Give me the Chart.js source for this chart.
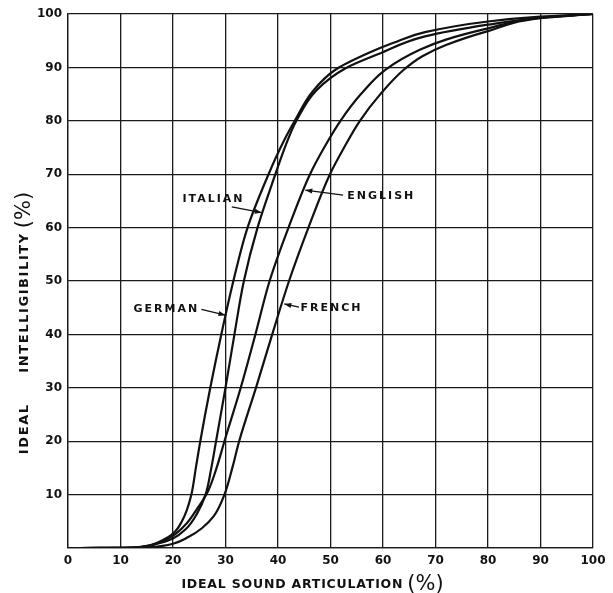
<!DOCTYPE html>
<html><head><meta charset="utf-8">
<script src="https://cdn.jsdelivr.net/npm/chart.js@4/dist/chart.umd.min.js"></script>
<style>html,body{margin:0;padding:0;background:#fff;}canvas{display:block;}</style>
</head><body>
<canvas id="c" width="613" height="593"></canvas>
<script>
// ---- data ----
const xTickValues = [0, 10, 20, 30, 40, 50, 60, 70, 80, 90, 100];
const yTickValues = [10, 20, 30, 40, 50, 60, 70, 80, 90, 100];
const xTitle = 'IDEAL SOUND ARTICULATION';
const yTitle = 'IDEAL     INTELLIGIBILITY';
const pctLabel = '(%)';

const germanX  = [0, 6, 10, 12.5, 14.5, 17, 19, 20.5, 21.7, 22.6, 23.5, 24.35, 25.2, 27.1, 29.2, 31.5, 34.2, 38.2, 41.2, 43.2, 46.6, 51, 57, 62, 68, 80, 90, 100];
const germanY  = [0, 0.005, 0.02, 0.08, 0.3, 1, 2, 3.2, 5, 7, 10, 15, 20, 30, 40, 50, 60, 70, 76.4, 80, 85.5, 89.6, 92.6, 94.6, 96.6, 98.6, 99.5, 100];
const italianX = [0, 6, 10, 12.5, 14.5, 17, 20, 22.5, 24.5, 26.2, 27.3, 28.2, 30.0, 31.7, 33.5, 36.1, 39.5, 41.5, 43.5, 47.3, 52.8, 59.4, 68, 80, 90, 100];
const italianY = [0, 0.005, 0.02, 0.07, 0.25, 0.8, 1.8, 3.6, 6.3, 10, 15, 20, 30, 40, 50, 60, 70, 75.5, 80, 85.7, 89.8, 92.6, 95.8, 98, 99.3, 100];
const englishX = [0, 6, 10, 12.5, 14.5, 17, 20, 22.5, 24.5, 26.6, 28.3, 29.8, 32.9, 35.7, 38.4, 42.0, 46.1, 48.8, 51.9, 55.8, 60.5, 67, 72, 80, 90, 100];
const englishY = [0, 0.005, 0.02, 0.07, 0.25, 0.9, 2.3, 4.5, 7.2, 10.5, 15, 20, 30, 40, 50, 60, 70, 75, 80, 85, 89.6, 93.3, 95.2, 97.3, 99.3, 100];
const frenchX  = [0, 7, 11, 13.5, 15.5, 18, 20, 23, 25.5, 27.8, 29.8, 31.3, 32.6, 35.8, 38.9, 42.1, 45.8, 49.9, 52.6, 55.6, 59.5, 64, 67.5, 72, 80, 90, 100];
const frenchY  = [0, 0.004, 0.015, 0.05, 0.14, 0.4, 0.8, 2.1, 3.7, 6, 10, 15, 20, 30, 40, 50, 60, 70, 75, 80, 85, 89.6, 92.1, 94.2, 96.8, 99.2, 100];

const seriesNames = ['GERMAN', 'ITALIAN', 'ENGLISH', 'FRENCH'];

// label annotations (data units): text anchor + arrow from/to
const notes = [
  {text: 'ITALIAN', tx: 27.7, ty: 65.4, align: 'center', fx: 31.2, fy: 63.9, toX: 36.9, toY: 62.8},
  {text: 'ENGLISH', tx: 53.2, ty: 65.9, align: 'left',   fx: 52.4, fy: 66.1, toX: 45.2, toY: 67.0},
  {text: 'GERMAN',  tx: 25.0, ty: 44.8, align: 'right',  fx: 25.4, fy: 44.7, toX: 30.0, toY: 43.6},
  {text: 'FRENCH',  tx: 44.3, ty: 44.9, align: 'left',   fx: 44.0, fy: 45.1, toX: 41.2, toY: 45.7}
];

const toPts = (xs, ys) => xs.map((x, i) => ({x: x, y: ys[i]}));
const lineStyle = {borderColor: '#111', borderWidth: 2.2, pointRadius: 0, fill: false,
                   cubicInterpolationMode: 'monotone'};

const notesPlugin = {
  id: 'notes',
  afterDatasetsDraw(chart) {
    const ctx = chart.ctx, xs = chart.scales.x, ys = chart.scales.y;
    ctx.save();
    ctx.fillStyle = '#111'; ctx.strokeStyle = '#111';
    ctx.font = 'bold 11px "DejaVu Sans"';
    ctx.letterSpacing = '2px';
    ctx.textBaseline = 'middle';
    notes.forEach(n => {
      ctx.textAlign = n.align;
      ctx.fillText(n.text, xs.getPixelForValue(n.tx), ys.getPixelForValue(n.ty));
      const x0 = xs.getPixelForValue(n.fx), y0 = ys.getPixelForValue(n.fy);
      const x1 = xs.getPixelForValue(n.toX), y1 = ys.getPixelForValue(n.toY);
      ctx.lineWidth = 1.3;
      ctx.beginPath(); ctx.moveTo(x0, y0); ctx.lineTo(x1, y1); ctx.stroke();
      const a = Math.atan2(y1 - y0, x1 - x0), L = 7, W = 2.5;
      ctx.beginPath();
      ctx.moveTo(x1, y1);
      ctx.lineTo(x1 - L * Math.cos(a) + W * Math.sin(a), y1 - L * Math.sin(a) - W * Math.cos(a));
      ctx.lineTo(x1 - L * Math.cos(a) - W * Math.sin(a), y1 - L * Math.sin(a) + W * Math.cos(a));
      ctx.closePath(); ctx.fill();
    });
    ctx.restore();
  },
  afterDraw(chart) {
    const ctx = chart.ctx, area = chart.chartArea;
    const pctFont = '21px "DejaVu Sans"';
    const drawTitle = (main, cx, cy, rot, mainFont, spacing, gap) => {
      ctx.save();
      ctx.translate(cx, cy);
      ctx.rotate(rot);
      ctx.fillStyle = '#111';
      ctx.textBaseline = 'alphabetic';
      ctx.textAlign = 'left';
      ctx.font = mainFont; ctx.letterSpacing = spacing;
      const w1 = ctx.measureText(main).width + gap;
      ctx.font = pctFont; ctx.letterSpacing = '0px';
      const w2 = ctx.measureText(pctLabel).width;
      const start = -(w1 + w2) / 2;
      ctx.font = mainFont; ctx.letterSpacing = spacing;
      ctx.fillText(main, start, 0);
      ctx.font = pctFont; ctx.letterSpacing = '0px';
      ctx.fillText(pctLabel, start + w1, 2);
      ctx.restore();
    };
    drawTitle(xTitle, (area.left + area.right) / 2 - 18, 588, 0, 'bold 12.5px "DejaVu Sans"', '0.8px', 4);
    drawTitle(yTitle, 28, (area.top + area.bottom) / 2 + 42, -Math.PI / 2, 'bold 13px "DejaVu Sans"', '1.6px', 4);
  }
};

new Chart(document.getElementById('c'), {
  type: 'line',
  data: {
    datasets: [
      Object.assign({label: seriesNames[0], data: toPts(germanX, germanY)}, lineStyle),
      Object.assign({label: seriesNames[1], data: toPts(italianX, italianY)}, lineStyle),
      Object.assign({label: seriesNames[2], data: toPts(englishX, englishY)}, lineStyle),
      Object.assign({label: seriesNames[3], data: toPts(frenchX, frenchY)}, lineStyle)
    ]
  },
  options: {
    indexAxis: 'y',
    responsive: false,
    animation: false,
    events: [],
    layout: {padding: {top: 14, right: 20, left: 0, bottom: 0}},
    plugins: {legend: {display: false}, tooltip: {enabled: false}},
    scales: {
      x: {
        type: 'linear', position: 'bottom', min: 0, max: 100,
        afterFit: s => { s.height = 45; },
        afterBuildTicks: s => { s.ticks = xTickValues.map(v => ({value: v})); },
        ticks: {color: '#111', padding: 6, font: {family: 'DejaVu Sans', size: 12, weight: 'bold'},
                maxRotation: 0, autoSkip: false},
        grid: {color: '#1a1a1a', lineWidth: 1.3, drawTicks: false},
        border: {color: '#1a1a1a', width: 1.3},
        title: {display: false}
      },
      y: {
        type: 'linear', position: 'left', min: 0, max: 100, reverse: false,
        afterFit: s => { s.width = 68; },
        afterBuildTicks: s => { s.ticks = [0].concat(yTickValues).map(v => ({value: v})); },
        ticks: {color: '#111', padding: 6, font: {family: 'DejaVu Sans', size: 12, weight: 'bold'},
                autoSkip: false, callback: v => (yTickValues.includes(v) ? String(v) : '')},
        grid: {color: '#1a1a1a', lineWidth: 1.3, drawTicks: false},
        border: {color: '#1a1a1a', width: 1.3},
        title: {display: false}
      }
    }
  },
  plugins: [notesPlugin]
});
</script>
</body></html>
